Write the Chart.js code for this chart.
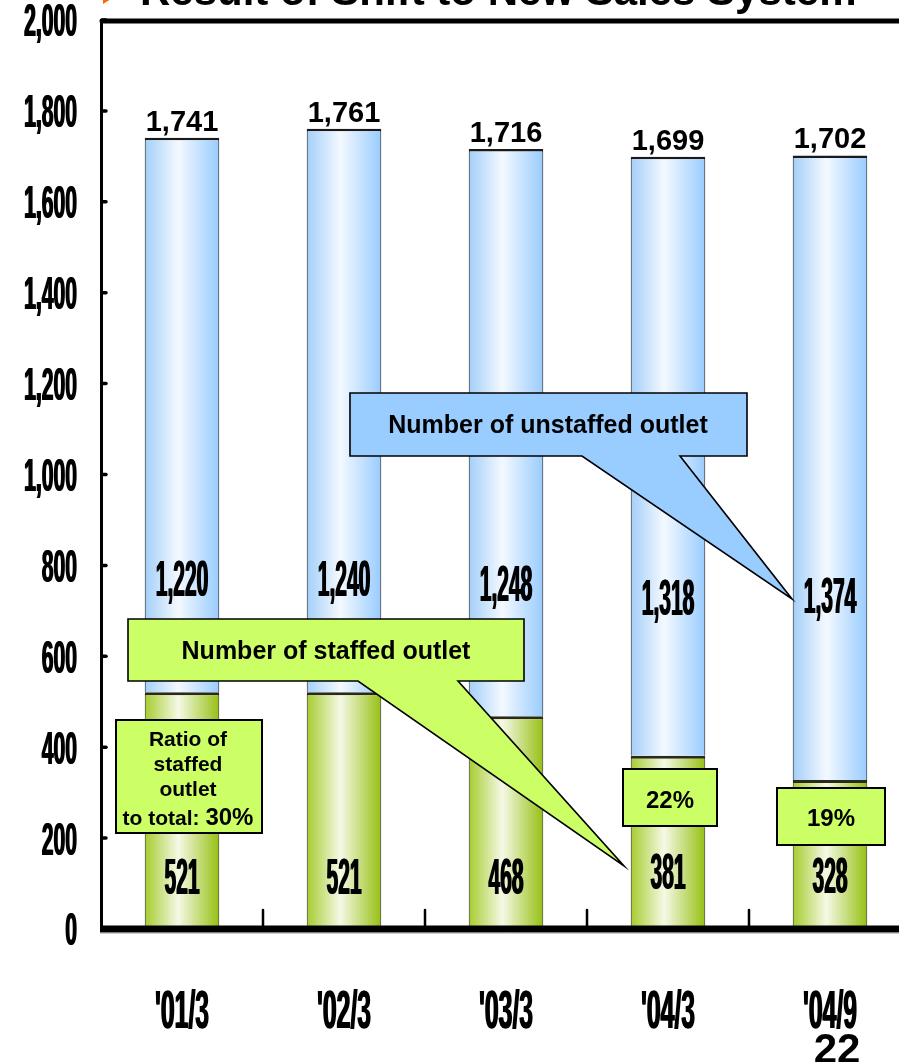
<!DOCTYPE html>
<html>
<head>
<meta charset="utf-8">
<script src="https://cdn.jsdelivr.net/npm/chart.js@4.4.1/dist/chart.umd.min.js"></script>
<style>
  html, body { margin: 0; padding: 0; background: #fff; overflow: hidden; width: 899px; height: 1062px; }
  #wrap { position: absolute; left: 0; top: 0; width: 920px; height: 1062px; }
</style>
</head>
<body>
<div id="wrap"><canvas id="c" width="920" height="1062"></canvas></div>
<script>
// ---- data ----
const categories = ["'01/3", "'02/3", "'03/3", "'04/3", "'04/9"];
const staffed    = [521, 521, 468, 381, 328];
const unstaffed  = [1220, 1240, 1248, 1318, 1374];
const totals     = [1741, 1761, 1716, 1699, 1702];
const ratioLabels = [['Ratio of', 'staffed', 'outlet', 'to total: ', '30%'], null, null, ['22%'], ['19%']];
const seriesNames = ['Number of staffed outlet', 'Number of unstaffed outlet'];
const yMin = 0, yMax = 2000, yStep = 200;
const titleText = 'Result of Shift to New Sales System';
const pageNo = '22';

// ---- layout (label anchors in axis units, annotation boxes in px) ----
const unstaffedLabelAt = [772, 772, 761, 730, 735];
const staffedLabelAt   = [117, 117, 117, 128, 119];
const BAR_PCT = 0.46;
const FONT = '"Liberation Sans", Arial, Helvetica, sans-serif';

function barGradient(edgeL, light, edgeR) {
  return function (context) {
    const chart = context.chart;
    const xs = chart.scales && chart.scales.x;
    if (context.type !== 'data' || !xs || !chart.chartArea) return edgeR;
    const cx = xs.getPixelForValue(context.dataIndex);
    const w = (xs.width / categories.length) * BAR_PCT;
    const g = chart.ctx.createLinearGradient(cx - w / 2, 0, cx + w / 2, 0);
    g.addColorStop(0, edgeL);
    g.addColorStop(0.45, light);
    g.addColorStop(1, edgeR);
    return g;
  };
}

// heavy condensed text: squeezed horizontally, drawn twice for extra weight
function squeezed(ctx, text, x, yMid, size, sx, align) {
  for (const dx of [-0.5, 0.6]) {
    ctx.save();
    ctx.translate(x + dx, yMid + size * 0.358);
    ctx.scale(sx, 1);
    ctx.font = 'bold ' + size + 'px ' + FONT;
    ctx.textAlign = align;
    ctx.textBaseline = 'alphabetic';
    ctx.fillStyle = '#000';
    ctx.fillText(text, 0, 0);
    ctx.restore();
  }
}

function plainText(ctx, text, x, yMid, size, align) {
  ctx.save();
  ctx.font = 'bold ' + size + 'px ' + FONT;
  ctx.textAlign = align || 'center';
  ctx.textBaseline = 'alphabetic';
  ctx.fillStyle = '#000';
  ctx.fillText(text, x, yMid + size * 0.358);
  ctx.restore();
}

function callout(ctx, box, tail, fill) {
  ctx.save();
  ctx.beginPath();
  ctx.moveTo(box.x0, box.y0);
  ctx.lineTo(box.x1, box.y0);
  ctx.lineTo(box.x1, box.y1);
  ctx.lineTo(tail.b1, box.y1);
  ctx.lineTo(tail.tx, tail.ty);
  ctx.lineTo(tail.b0, box.y1);
  ctx.lineTo(box.x0, box.y1);
  ctx.closePath();
  ctx.fillStyle = fill;
  ctx.fill();
  ctx.lineWidth = 1.6;
  ctx.lineJoin = 'miter';
  ctx.strokeStyle = '#000';
  ctx.stroke();
  ctx.restore();
}

function labelBox(ctx, x0, y0, x1, y1) {
  ctx.save();
  ctx.fillStyle = '#CCFF66';
  ctx.fillRect(x0, y0, x1 - x0, y1 - y0);
  ctx.lineWidth = 2;
  ctx.strokeStyle = '#000';
  ctx.strokeRect(x0, y0, x1 - x0, y1 - y0);
  ctx.restore();
}

const decorations = {
  id: 'decorations',
  afterDatasetsDraw(chart) {
    const ctx = chart.ctx;
    const xs = chart.scales.x, ys = chart.scales.y;
    const area = chart.chartArea;

    // title (runs off the top edge)
    ctx.save();
    ctx.fillStyle = '#FF6600';
    ctx.beginPath();
    ctx.moveTo(103, -8); ctx.lineTo(111, -1); ctx.lineTo(103, 4); ctx.closePath();
    ctx.fill();
    ctx.font = 'bold 42px ' + FONT;
    ctx.fillStyle = '#000';
    ctx.textAlign = 'left';
    ctx.textBaseline = 'alphabetic';
    ctx.fillText(titleText, 140, 5);
    ctx.restore();

    // axis lines
    ctx.save();
    ctx.strokeStyle = '#000';
    ctx.lineCap = 'round';
    ctx.lineWidth = 5;
    ctx.beginPath(); ctx.moveTo(area.left + 1, area.top + 1); ctx.lineTo(925, area.top + 1); ctx.stroke();
    ctx.lineCap = 'butt';
    ctx.lineWidth = 3;
    ctx.beginPath(); ctx.moveTo(area.left + 0.5, area.top - 1); ctx.lineTo(area.left + 0.5, area.bottom + 3); ctx.stroke();
    ctx.lineWidth = 7;
    ctx.beginPath(); ctx.moveTo(area.left - 1, area.bottom); ctx.lineTo(925, area.bottom); ctx.stroke();
    ctx.strokeStyle = '#cfcfcf';
    ctx.lineWidth = 1;
    ctx.beginPath(); ctx.moveTo(area.left - 1, area.bottom + 4.5); ctx.lineTo(925, area.bottom + 4.5); ctx.stroke();

    // y ticks (pointing into the plot) and labels
    ctx.strokeStyle = '#000';
    ctx.lineCap = 'round';
    ctx.lineWidth = 3.5;
    ys.ticks.forEach(t => {
      const y = ys.getPixelForValue(t.value);
      if (t.value > yMin) {
        ctx.beginPath(); ctx.moveTo(area.left + 1, y); ctx.lineTo(area.left + 5, y); ctx.stroke();
      }
      squeezed(ctx, t.value.toLocaleString('en-US'), 77, y, 46, 0.46, 'right');
    });

    // x ticks between categories (pointing up)
    ctx.lineWidth = 2.5;
    for (let i = 0; i < categories.length - 1; i++) {
      const xb = (xs.getPixelForValue(i) + xs.getPixelForValue(i + 1)) / 2;
      ctx.beginPath(); ctx.moveTo(xb, area.bottom - 19); ctx.lineTo(xb, area.bottom); ctx.stroke();
    }
    ctx.restore();

    // category labels
    categories.forEach((c, i) => {
      squeezed(ctx, c, xs.getPixelForValue(i), 1009, 53, 0.467, 'center');
    });

    // values inside and above the bars
    categories.forEach((c, i) => {
      const cx = xs.getPixelForValue(i);
      squeezed(ctx, staffed[i].toLocaleString('en-US'), cx, ys.getPixelForValue(staffedLabelAt[i]), 50, 0.42, 'center');
      squeezed(ctx, unstaffed[i].toLocaleString('en-US'), cx, ys.getPixelForValue(unstaffedLabelAt[i]), 50, 0.42, 'center');
      const topY = ys.getPixelForValue(totals[i]);
      ctx.save();
      ctx.font = 'bold 29px ' + FONT;
      ctx.textAlign = 'center';
      ctx.textBaseline = 'alphabetic';
      ctx.fillStyle = '#000';
      ctx.fillText(totals[i].toLocaleString('en-US'), cx, topY - 7);
      ctx.restore();
    });

    // series callouts
    callout(ctx, { x0: 350, y0: 393, x1: 747, y1: 456 }, { b0: 582, b1: 680, tx: 792, ty: 599 }, '#99CCFF');
    plainText(ctx, seriesNames[1], 548, 424, 25, 'center');
    callout(ctx, { x0: 128, y0: 619, x1: 524, y1: 681 }, { b0: 358, b1: 458, tx: 624, ty: 866 }, '#CCFF66');
    plainText(ctx, seriesNames[0], 326, 650, 25, 'center');

    // staffed share boxes
    labelBox(ctx, 116, 720, 262, 833);
    const r = ratioLabels[0];
    plainText(ctx, r[0], 188, 738, 21);
    plainText(ctx, r[1], 188, 763, 21);
    plainText(ctx, r[2], 188, 788, 21);
    ctx.save();
    ctx.font = 'bold 21px ' + FONT;
    const w1 = ctx.measureText(r[3]).width;
    ctx.font = 'bold 24px ' + FONT;
    const w2 = ctx.measureText(r[4]).width;
    ctx.restore();
    const sx0 = 188 - (w1 + w2) / 2;
    plainText(ctx, r[3], sx0, 817, 21, 'left');
    plainText(ctx, r[4], sx0 + w1, 816, 24, 'left');

    labelBox(ctx, 623, 769, 717, 826);
    plainText(ctx, ratioLabels[3][0], 670, 799, 24);
    labelBox(ctx, 777, 788, 885, 845);
    plainText(ctx, ratioLabels[4][0], 831, 817, 24);

    // page number
    ctx.save();
    ctx.font = 'bold 42px ' + FONT;
    ctx.textAlign = 'center';
    ctx.textBaseline = 'alphabetic';
    ctx.fillStyle = '#000';
    ctx.fillText(pageNo, 837, 1063);
    ctx.restore();
  }
};

new Chart(document.getElementById('c'), {
  type: 'bar',
  data: {
    labels: categories,
    datasets: [
      {
        label: seriesNames[0],
        data: staffed,
        backgroundColor: barGradient('#A6CC2E', '#F5F9E6', '#96C012'),
        borderColor: '#2a2a1a',
        borderWidth: { top: 3, left: 1, right: 1, bottom: 0 },
        barPercentage: BAR_PCT,
        categoryPercentage: 1
      },
      {
        label: seriesNames[1],
        data: unstaffed,
        backgroundColor: barGradient('#A3CFF9', '#F4F9FF', '#99CCFF'),
        borderColor: '#1a1a1a',
        borderWidth: { top: 2.5, left: 1, right: 1, bottom: 0 },
        barPercentage: BAR_PCT,
        categoryPercentage: 1
      }
    ]
  },
  options: {
    responsive: false,
    animation: false,
    devicePixelRatio: 1,
    layout: { padding: { left: 101, right: 9, top: 20, bottom: 133 } },
    plugins: { legend: { display: false }, tooltip: { enabled: false }, title: { display: false } },
    scales: {
      x: { stacked: true, display: false, offset: true },
      y: { stacked: true, display: false, min: yMin, max: yMax, ticks: { stepSize: yStep } }
    }
  },
  plugins: [decorations]
});
</script>
</body>
</html>
